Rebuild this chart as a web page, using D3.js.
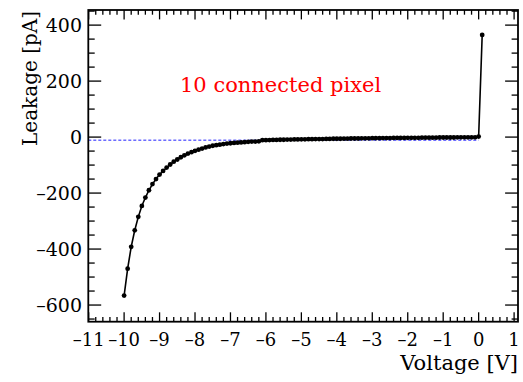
<!DOCTYPE html>
<html><head><meta charset="utf-8">
<script src="https://cdn.jsdelivr.net/npm/d3@7"></script>
<style>body{margin:0;background:#fff}svg{display:block}</style>
</head><body><svg id="c" width="523" height="382"></svg>
<script>
const voltage = [-10,-9.9,-9.8,-9.7,-9.6,-9.5,-9.4,-9.3,-9.2,-9.1,-9,-8.9,-8.8,-8.7,-8.6,-8.5,-8.4,-8.3,-8.2,-8.1,-8,-7.9,-7.8,-7.7,-7.6,-7.5,-7.4,-7.3,-7.2,-7.1,-7,-6.9,-6.8,-6.7,-6.6,-6.5,-6.4,-6.3,-6.2,-6.1,-6,-5.9,-5.8,-5.7,-5.6,-5.5,-5.4,-5.3,-5.2,-5.1,-5,-4.9,-4.8,-4.7,-4.6,-4.5,-4.4,-4.3,-4.2,-4.1,-4,-3.9,-3.8,-3.7,-3.6,-3.5,-3.4,-3.3,-3.2,-3.1,-3,-2.9,-2.8,-2.7,-2.6,-2.5,-2.4,-2.3,-2.2,-2.1,-2,-1.9,-1.8,-1.7,-1.6,-1.5,-1.4,-1.3,-1.2,-1.1,-1,-0.9,-0.8,-0.7,-0.6,-0.5,-0.4,-0.3,-0.2,-0.1,0,0.1];
const leakage = [-566,-470,-392,-333,-285,-246,-216,-190,-168,-150,-134,-121,-109,-98,-88,-80,-72,-65,-59,-54,-49,-45,-41,-37,-34,-31,-29,-27,-25,-23,-22,-21,-20,-19,-18,-17,-16,-16,-15,-11,-11,-10.5,-10,-10,-9.5,-9.5,-9,-9,-8.5,-8.5,-8,-8,-7.5,-7.5,-7,-7,-7,-6.5,-6.5,-6,-6,-6,-5.5,-5.5,-5,-5,-5,-4.5,-4.5,-4.5,-4,-4,-4,-3.5,-3.5,-3.5,-3,-3,-3,-3,-2.5,-2.5,-2.5,-2.5,-2,-2,-2,-2,-2,-1.5,-1.5,-1.5,-1.5,-1.5,-1,-1,-1,-1,-1,-1,2,365];
const baseline = -11;
const xTicks = [-11,-10,-9,-8,-7,-6,-5,-4,-3,-2,-1,0,1];
const yTicks = [-600,-400,-200,0,200,400];
const xDomain = [-11.01, 1.11];
const yDomain = [-659.5, 454];
const label = "10 connected pixel";

const FONT = "DejaVu Serif";
const svg = d3.select("#c");
const L=88.3, R=518, T=10, B=321.7;
const x = d3.scaleLinear().domain(xDomain).range([L,R]);
const y = d3.scaleLinear().domain(yDomain).range([B,T]);

const xMinor = d3.range(-11, 1.11, 0.2).map(v=>+v.toFixed(2));
const yMinor = d3.range(-650, 455, 50);
const g = svg.append("g").attr("stroke","#000").attr("stroke-width",1.3);
const xMaj = 9.4, xMin = 4.7, yMaj = 12.9, yMin = 6.4;
xMinor.forEach(v=>{
  const isMaj = Math.abs(v-Math.round(v))<1e-6;
  const len = isMaj? xMaj : xMin;
  g.append("line").attr("x1",x(v)).attr("x2",x(v)).attr("y1",B).attr("y2",B-len);
  g.append("line").attr("x1",x(v)).attr("x2",x(v)).attr("y1",T).attr("y2",T+len);
});
yMinor.forEach(v=>{
  const len = (v%200===0)? yMaj : yMin;
  g.append("line").attr("x1",L).attr("x2",L+len).attr("y1",y(v)).attr("y2",y(v));
  g.append("line").attr("x1",R).attr("x2",R-len).attr("y1",y(v)).attr("y2",y(v));
});

const fmt = d=>d<0?"\u2013"+Math.abs(d):String(d);
svg.append("g").selectAll("text").data(xTicks).join("text")
  .attr("x",d=>x(d)).attr("y",346).attr("text-anchor","middle")
  .style("font-family",FONT).style("font-size","18px").text(fmt);
svg.append("g").selectAll("text").data(yTicks).join("text")
  .attr("x",82).attr("y",d=>y(d)+7).attr("text-anchor","end")
  .style("font-family",FONT).style("font-size","19px").text(fmt);

svg.append("line").attr("x1",x(-11.01)).attr("x2",x(0)).attr("y1",y(baseline)).attr("y2",y(baseline))
  .attr("stroke","#2020ff").attr("stroke-width",1).attr("stroke-dasharray","3,2");

const data = voltage.map((v,i)=>[v,leakage[i]]);
svg.append("path").datum(data).attr("fill","none").attr("stroke","#000").attr("stroke-width",1.6)
  .attr("d",d3.line().x(d=>x(d[0])).y(d=>y(d[1])));
svg.append("g").selectAll("circle").data(data).join("circle")
  .attr("cx",d=>x(d[0])).attr("cy",d=>y(d[1])).attr("r",2.4).attr("fill","#000");

svg.append("rect").attr("x",L).attr("y",T).attr("width",R-L).attr("height",B-T)
  .attr("fill","none").attr("stroke","#000").attr("stroke-width",1.8);

svg.append("text").attr("x",R).attr("y",370).attr("text-anchor","end")
  .style("font-family",FONT).style("font-size","21px").text("Voltage [V]");
svg.append("text").attr("transform",`translate(37,${T+1}) rotate(-90)`).attr("text-anchor","end")
  .style("font-family",FONT).style("font-size","20px").text("Leakage [pA]");
svg.append("text").attr("x",180).attr("y",92)
  .style("font-family",FONT).style("font-size","21px").attr("fill","#ff0000").text(label);
</script></body></html>
